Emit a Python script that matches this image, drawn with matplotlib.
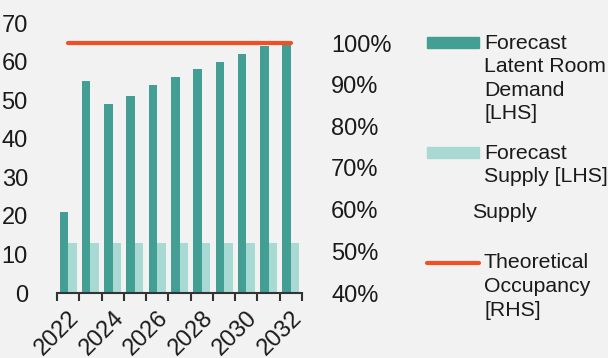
import matplotlib
matplotlib.use("Agg")
import matplotlib.pyplot as plt
from matplotlib.patches import Rectangle
from matplotlib.lines import Line2D
from matplotlib.ticker import FuncFormatter
from matplotlib.transforms import ScaledTranslation

plt.rcParams['font.family'] = ['Liberation Sans', 'DejaVu Sans']

years = [2022, 2023, 2024, 2025, 2026, 2027, 2028, 2029, 2030, 2031, 2032]
latent_demand = [21, 55, 49, 51, 54, 56, 58, 60, 62, 64, 65]
forecast_supply = [13, 13, 13, 13, 13, 13, 13, 13, 13, 13, 13]
occupancy = [1.0] * 11
left_ticks = [0, 10, 20, 30, 40, 50, 60, 70]
right_ticks = [0.4, 0.5, 0.6, 0.7, 0.8, 0.9, 1.0]

demand_color = '#439E94'
supply_color = '#A8DAD3'
line_color = '#F05023'
bg = '#F2F2F2'
text_color = '#1A1A1A'

fig = plt.figure(figsize=(6.08, 3.58), dpi=100, facecolor=bg)
ax = fig.add_axes([57 / 608, 1 - 293 / 358, 245 / 608, 270 / 358])
ax.set_facecolor(bg)

x = list(range(len(years)))
w = 0.38
ax.bar([i - w / 2 for i in x], latent_demand, width=w, color=demand_color, zorder=2)
ax.bar([i + w / 2 for i in x], forecast_supply, width=w, color=supply_color, zorder=2)

ax.set_xlim(-0.5, len(years) - 0.5)
ax.set_ylim(0, 70)
ax.set_yticks(left_ticks)
ax.tick_params(axis='y', length=0, pad=21, labelsize=17, labelcolor=text_color)

ax.set_xticks(x[::2])
ax.set_xticklabels([str(y) for y in years[::2]], rotation=45, ha='right',
                   rotation_mode='anchor')
shift = ScaledTranslation(-5 / 100, 0, fig.dpi_scale_trans)
for lab in ax.get_xticklabels():
    lab.set_transform(lab.get_transform() + shift)
ax.set_xticks([i - 0.5 for i in range(len(years) + 1)], minor=True)
ax.tick_params(axis='x', which='major', length=0, pad=10, labelsize=17,
               labelcolor=text_color)
ax.tick_params(axis='x', which='minor', length=6, width=1.5, color='#333333',
               direction='out')
for s in ['left', 'right', 'top']:
    ax.spines[s].set_visible(False)
ax.spines['bottom'].set_color('#333333')
ax.spines['bottom'].set_linewidth(1.5)

ax2 = ax.twinx()
ax2.set_ylim(0.4, 0.4 + 0.6 * 270 / 250)
ax2.set_yticks(right_ticks)
ax2.yaxis.set_major_formatter(FuncFormatter(lambda v, p: f"{v * 100:.0f}%"))
ax2.tick_params(axis='y', length=0, pad=21, labelsize=17, labelcolor=text_color)
for s in ax2.spines.values():
    s.set_visible(False)
ax2.plot(x, occupancy, color=line_color, linewidth=3, solid_capstyle='round',
         zorder=3)

# legend built by hand on the right side
W, H = 608, 358
def fx(px):
    return px / W
def fy(py):
    return 1 - py / H

fig.patches.append(Rectangle((fx(427), fy(48)), 52 / W, 11 / H,
                             transform=fig.transFigure, color=demand_color))
fig.patches.append(Rectangle((fx(427), fy(158)), 52 / W, 11 / H,
                             transform=fig.transFigure, color=supply_color))
fig.lines.append(Line2D([fx(427), fx(479)], [fy(263), fy(263)],
                        transform=fig.transFigure, color=line_color,
                        linewidth=3, solid_capstyle='round'))

lt = dict(fontsize=15.3, color=text_color, ha='left', va='center',
          linespacing=1.3)
fig.text(fx(484), fy(78.5), "Forecast\nLatent Room\nDemand\n[LHS]", **lt)
fig.text(fx(484), fy(165), "Forecast\nSupply [LHS]", **lt)
fig.text(fx(472), fy(212), "Supply", **lt)
fig.text(fx(484), fy(286.5), "Theoretical\nOccupancy\n[RHS]", **lt)

fig.savefig("out.png", dpi=100, facecolor=bg)
